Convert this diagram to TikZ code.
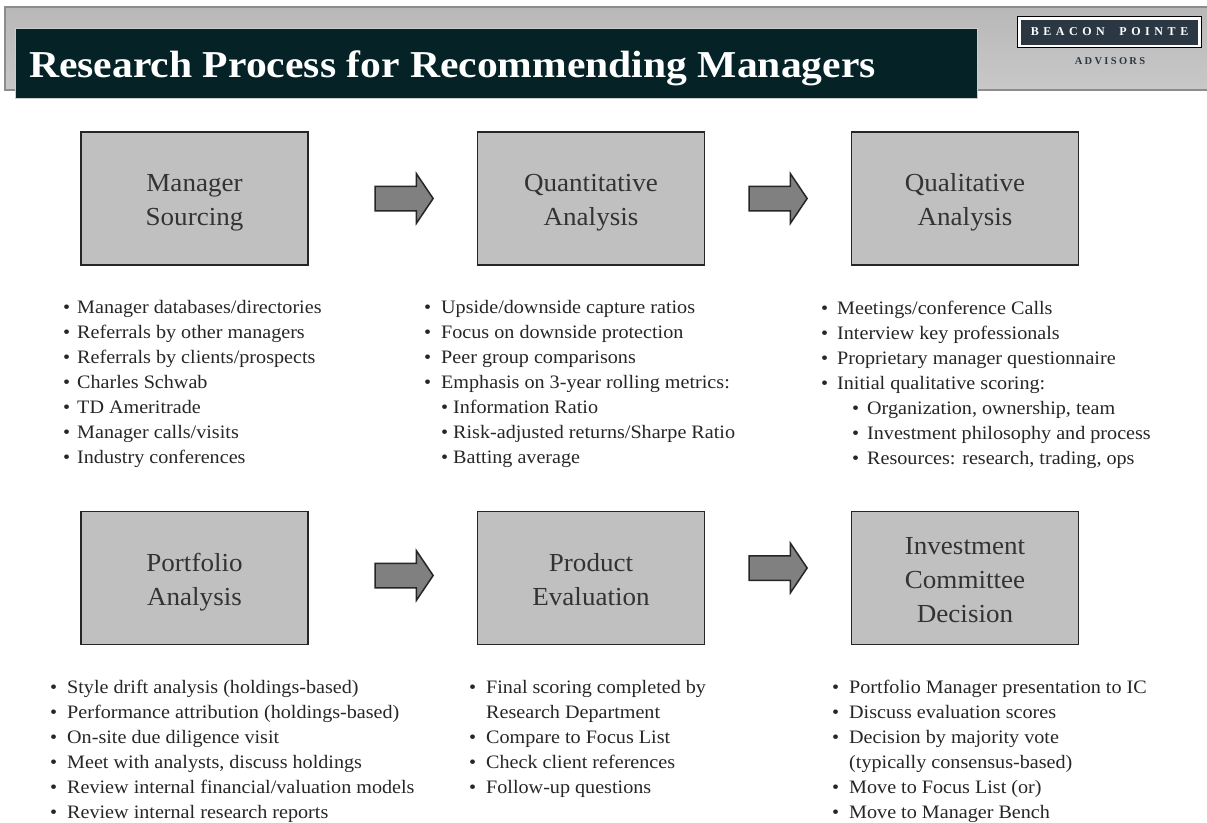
\documentclass[tikz,border=0pt]{standalone}
\usepackage{fontspec}
\setmainfont{Liberation Serif}
\newfontfamily\bodyfont[FakeStretch=1.06]{Liberation Serif}
\newfontfamily\stagefont[FakeStretch=1.04]{Liberation Serif}
\newfontfamily\titlefont[FakeStretch=1.095,BoldFont={Liberation Serif Bold}]{Liberation Serif}
\newfontfamily\logofont[LetterSpace=38,BoldFont={Liberation Serif Bold}]{Liberation Serif}
\newfontfamily\advfont[LetterSpace=22,BoldFont={Liberation Serif Bold}]{Liberation Serif}
\usetikzlibrary{shapes.arrows}
\definecolor{boxgray}{HTML}{C0C0C0}
\definecolor{arrowgray}{HTML}{808080}
\definecolor{edgedark}{HTML}{262626}
\definecolor{titledark}{HTML}{052226}
\definecolor{logodark}{HTML}{2B3742}
\definecolor{bandgray}{HTML}{C8C8C8}
\newcommand{\blt}[2][15pt]{\makebox[#1][l]{•}#2}
\newcommand{\stxt}[2][3.5pt]{\raisebox{-#1}[\height][\depth]{\begin{tabular}{@{}c@{}}#2\end{tabular}}}
\tikzset{x=1pt,y=-1pt,
 stagebox/.style={draw=edgedark,line width=1.6pt,fill=boxgray,minimum width=227pt,minimum height=133pt,inner sep=0pt,align=center,font=\stagefont\fontsize{26}{34}\selectfont,text=black!80},
 blockarrow/.style={single arrow,draw=edgedark,line width=1.5pt,fill=arrowgray,minimum height=58pt,single arrow head extend=12.5pt,single arrow tip angle=112,inner xsep=0pt,inner ysep=11.5pt,anchor=center},
 bullets/.style={anchor=north west,align=left,inner sep=0pt,font=\bodyfont\fontsize{19}{25}\selectfont,text=black!85}}
\begin{document}
\begin{tikzpicture}
\useasboundingbox (0,0) rectangle (1207,822);
% header band
\fill[white] (0,0) rectangle (1207,822);
\draw[draw=gray!90,line width=2pt,top color=bandgray!92!black,bottom color=bandgray] (4.5,7) -- (1210,7) -- (1210,90) -- (4.5,90) -- cycle;
\node[fill=titledark,draw=gray!40,line width=.5pt,minimum width=962pt,minimum height=70pt,inner sep=0pt,anchor=north west] (titlebar) at (14.5,27.5) {};
\node[anchor=base west,inner sep=0,text=white,font=\titlefont\fontsize{38}{38}\selectfont\bfseries] (title) at (29,77) {Research Process for Recommending Managers};
\node[draw=black,line width=1pt,fill=white,minimum width=184pt,minimum height=31pt,inner sep=0pt] (logoframe) at (1109.5,32) {};
\node[fill=logodark,minimum width=177pt,minimum height=25pt,inner sep=0pt,text=white,font=\logofont\fontsize{12}{12}\selectfont\bfseries] (logo) at (logoframe.center) {BEACON\hspace{7pt} POINTE};
\node[inner sep=0pt,text=logodark,font=\advfont\fontsize{10.5}{10.5}\selectfont\bfseries] (advisors) at (1110,61) {ADVISORS};
% stage boxes
\node[stagebox] (b1) at (194.5,198.5) {\stxt{Manager\\Sourcing}};
\node[stagebox] (b2) at (591,198.5) {\stxt{Quantitative\\Analysis}};
\node[stagebox] (b3) at (965,198.5) {\stxt{Qualitative\\Analysis}};
\node[stagebox] (b4) at (194.5,578) {\stxt{Portfolio\\Analysis}};
\node[stagebox] (b5) at (591,578) {\stxt{Product\\Evaluation}};
\node[stagebox] (b6) at (965,578) {\stxt{Investment\\Committee\\Decision}};
% block arrows
\node[blockarrow] (a1) at (400,198.5) {};
\node[blockarrow] (a2) at (774,198.5) {};
\node[blockarrow] (a3) at (400,575.5) {};
\node[blockarrow] (a4) at (774,568) {};
% lists
\node[bullets] (l1) at (63,300.5) {\blt[14pt]{Manager databases/directories}\\\blt[14pt]{Referrals by other managers}\\\blt[14pt]{Referrals by clients/prospects}\\\blt[14pt]{Charles Schwab}\\\blt[14pt]{TD Ameritrade}\\\blt[14pt]{Manager calls/visits}\\\blt[14pt]{Industry conferences}};
\node[bullets] (l2) at (424,300.5) {\blt[17pt]{Upside/downside capture ratios}\\\blt[17pt]{Focus on downside protection}\\\blt[17pt]{Peer group comparisons}\\\blt[17pt]{Emphasis on 3-year rolling metrics:}\\\hspace*{17pt}\blt[12pt]{Information Ratio}\\\hspace*{17pt}\blt[12pt]{Risk-adjusted returns/Sharpe Ratio}\\\hspace*{17pt}\blt[12pt]{Batting average}};
\node[bullets] (l3) at (821,300.5) {\blt[16pt]{Meetings/conference Calls}\\\blt[16pt]{Interview key professionals}\\\blt[16pt]{Proprietary manager questionnaire}\\\blt[16pt]{Initial qualitative scoring:}\\\hspace*{31pt}\blt{Organization, ownership, team}\\\hspace*{31pt}\blt{Investment philosophy and process}\\\hspace*{31pt}\blt{Resources: research, trading, ops}};
\node[bullets] (l4) at (50,680) {\blt[17pt]{Style drift analysis (holdings-based)}\\\blt[17pt]{Performance attribution (holdings-based)}\\\blt[17pt]{On-site due diligence visit}\\\blt[17pt]{Meet with analysts, discuss holdings}\\\blt[17pt]{Review internal financial/valuation models}\\\blt[17pt]{Review internal research reports}};
\node[bullets] (l5) at (469,680) {\blt[17pt]{Final scoring completed by}\\\hspace*{17pt}Research Department\\\blt[17pt]{Compare to Focus List}\\\blt[17pt]{Check client references}\\\blt[17pt]{Follow-up questions}};
\node[bullets] (l6) at (832,680) {\blt[17pt]{Portfolio Manager presentation to IC}\\\blt[17pt]{Discuss evaluation scores}\\\blt[17pt]{Decision by majority vote}\\\hspace*{17pt}(typically consensus-based)\\\blt[17pt]{Move to Focus List (or)}\\\blt[17pt]{Move to Manager Bench}};
\end{tikzpicture}
\end{document}
